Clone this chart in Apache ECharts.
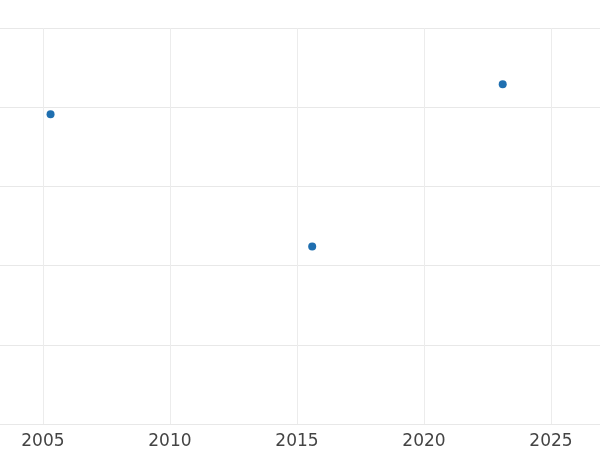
<!DOCTYPE html>
<html><head><meta charset="utf-8">
<script src="https://cdn.jsdelivr.net/npm/echarts@6/dist/echarts.min.js"></script>
<style>html,body{margin:0;padding:0;background:#fff}#c{width:600px;height:450px}</style>
</head><body><div id="c"></div>
<script>
var years = [2005.3, 2015.6, 2023.1];
var values = [3.91, 2.24, 4.29];
var yearTicks = [2005, 2010, 2015, 2020, 2025];

var chart = echarts.init(document.getElementById("c"));
chart.setOption({
  animation: false,
  grid: { left: 0, right: 0, top: 28, bottom: 22 },
  xAxis: {
    type: "value", min: 2003.31, max: 2026.93,
    axisLine: { show: false },
    axisTick: { show: false, customValues: yearTicks },
    axisLabel: { customValues: yearTicks, color: "#444", fontSize: 17, fontFamily: "DejaVu Sans", margin: 9,
      formatter: function (v) { return String(v); } },
    splitLine: { show: true, lineStyle: { color: "#ececec" } }
  },
  yAxis: {
    type: "value", min: 0, max: 5, interval: 1,
    axisLine: { show: false }, axisTick: { show: false }, axisLabel: { show: false },
    splitLine: { lineStyle: { color: "#e8e8e8" } }
  },
  series: [{
    type: "scatter", symbolSize: 8,
    itemStyle: { color: "#1f6fb0", opacity: 1 },
    data: years.map(function (y, i) { return [y, values[i]]; })
  }]
});
</script></body></html>
